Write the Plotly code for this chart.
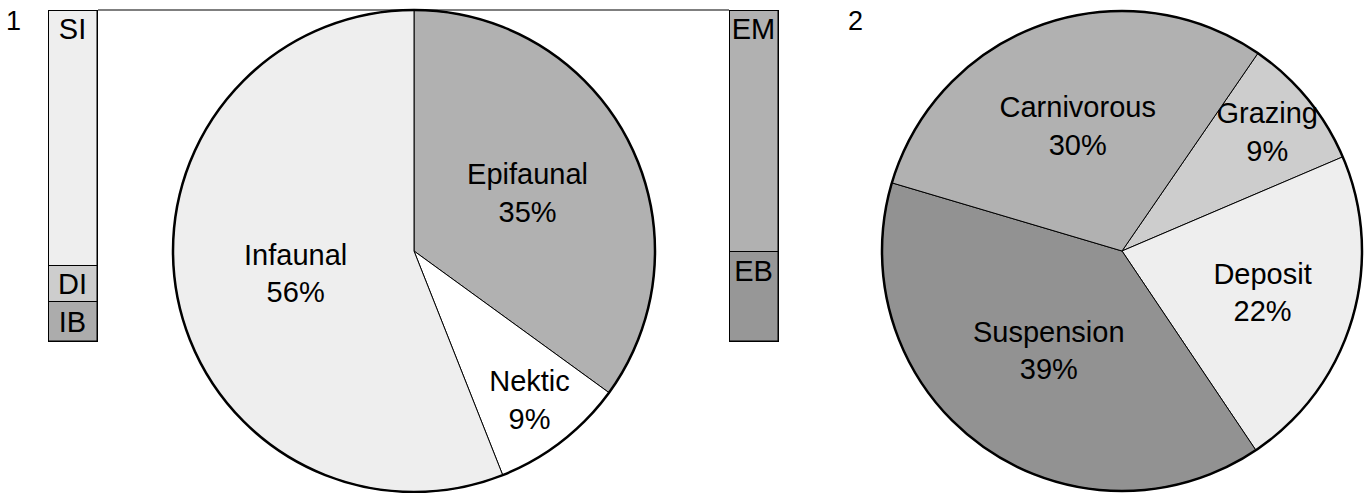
import plotly.graph_objects as go

W, H = 1366, 493

# ---- data ----
life_labels = ["Epifaunal", "Nektic", "Infaunal"]
life_values = [35, 9, 56]
life_colors = ["#b1b1b1", "#ffffff", "#eeeeee"]

feed_labels = ["Grazing", "Deposit", "Suspension", "Carnivorous"]
feed_values = [9, 22, 39, 30]
feed_colors = ["#cdcdcd", "#eeeeee", "#929292", "#b1b1b1"]

infaunal_labels = ["IB", "DI", "SI"]          # bottom -> top
infaunal_values = [12, 11, 77]
infaunal_colors = ["#acacac", "#cdcdcd", "#eeeeee"]
infaunal_anchor = ["middle", "middle", "end"]

epifaunal_labels = ["EB", "EM"]               # bottom -> top
epifaunal_values = [27, 73]
epifaunal_colors = ["#979797", "#b1b1b1"]
epifaunal_anchor = ["end", "end"]

panel_labels = ["1", "2"]

FONT = "Liberation Sans, Arial, sans-serif"
FS = 29

fig = go.Figure()


def px_x(a, b):
    return [a / W, b / W]


def px_y(top, bottom):
    return [(H - bottom) / H, (H - top) / H]


# ---- stacked bars ----
def add_stack(labels, values, colors, anchors, xa, ya):
    base = 0
    for lab, v, c, an in zip(labels, values, colors, anchors):
        fig.add_trace(go.Bar(
            x=[0], y=[v], base=[base], xaxis=xa, yaxis=ya,
            marker=dict(color=c, line=dict(color="black", width=1)),
            text=[lab], textposition="inside", insidetextanchor=an,
            textangle=0, constraintext="none", cliponaxis=False,
            textfont=dict(family=FONT, size=FS, color="black"),
            hoverinfo="skip", showlegend=False, width=1,
        ))
        base += v
    fig.add_trace(go.Bar(
        x=[0], y=[sum(values)], base=[0], xaxis=xa, yaxis=ya,
        marker=dict(color="rgba(0,0,0,0)", line=dict(color="black", width=2.5)),
        hoverinfo="skip", showlegend=False, width=1, cliponaxis=False,
    ))


add_stack(infaunal_labels, infaunal_values, infaunal_colors, infaunal_anchor, "x", "y")
add_stack(epifaunal_labels, epifaunal_values, epifaunal_colors, epifaunal_anchor, "x2", "y2")

# ---- pies ----
def add_pie(labels, values, colors, dom_x, dom_y, rotation):
    fig.add_trace(go.Pie(
        labels=labels, values=values, sort=False, direction="clockwise",
        rotation=rotation,
        marker=dict(colors=colors, line=dict(color="black", width=1)),
        texttemplate="%{label}<br>%{value}%", textposition="inside",
        insidetextorientation="horizontal",
        textfont=dict(family=FONT, size=FS, color="black"),
        domain=dict(x=dom_x, y=dom_y), hoverinfo="skip", showlegend=False,
    ))
    fig.add_trace(go.Pie(
        labels=["outline"], values=[sum(values)],
        marker=dict(colors=["rgba(0,0,0,0)"], line=dict(color="black", width=2.5)),
        textinfo="none", domain=dict(x=dom_x, y=dom_y), hoverinfo="skip",
        showlegend=False,
    ))


add_pie(life_labels, life_values, life_colors, px_x(173, 655), px_y(10, 492), 0)
add_pie(feed_labels, feed_values, feed_colors, px_x(882, 1362), px_y(10, 492), 34.5)

bar_y = px_y(10, 342)
axis_off = dict(visible=False, fixedrange=True)
fig.update_layout(
    width=W, height=H,
    margin=dict(l=0, r=0, t=0, b=0),
    paper_bgcolor="white", plot_bgcolor="rgba(0,0,0,0)",
    barmode="overlay", bargap=0,
    uniformtext=dict(minsize=FS, mode="show"),
    xaxis=dict(domain=px_x(48, 98), range=[-0.5, 0.5], **axis_off),
    yaxis=dict(domain=bar_y, range=[0, sum(infaunal_values)], **axis_off),
    xaxis2=dict(domain=px_x(729, 779), range=[-0.5, 0.5], anchor="y2", **axis_off),
    yaxis2=dict(domain=bar_y, range=[0, sum(epifaunal_values)], anchor="x2", **axis_off),
    font=dict(family=FONT, size=FS, color="black"),
    shapes=[dict(type="line", xref="paper", yref="paper",
                 x0=98 / W, x1=729 / W, y0=(H - 10) / H, y1=(H - 10) / H,
                 line=dict(color="black", width=1.2))],
    annotations=[
        dict(text=panel_labels[0], x=4 / W, y=(H - 4) / H, xref="paper", yref="paper",
             xanchor="left", yanchor="top", showarrow=False,
             font=dict(family=FONT, size=27, color="black")),
        dict(text=panel_labels[1], x=846 / W, y=(H - 4) / H, xref="paper", yref="paper",
             xanchor="left", yanchor="top", showarrow=False,
             font=dict(family=FONT, size=27, color="black")),
    ],
)

fig.write_html(
    "out.html",
    config={"displayModeBar": False},
    post_script="document.body.style.margin='0px';document.body.style.overflow='hidden';",
)
